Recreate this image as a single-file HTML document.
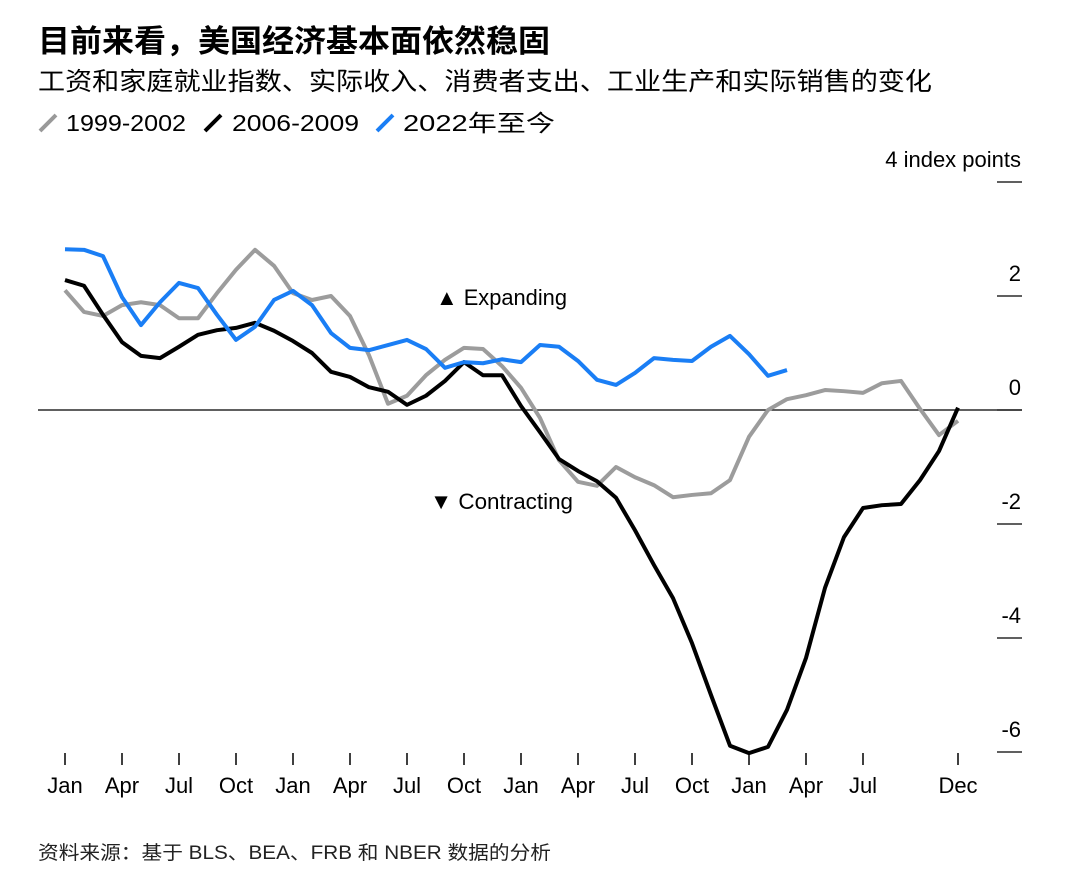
<!DOCTYPE html>
<html><head><meta charset="utf-8"><style>
body{margin:0;background:#fff;font-family:"Liberation Sans","Noto Sans CJK SC",sans-serif;}
svg text{font-family:"Liberation Sans","Noto Sans CJK SC",sans-serif;}
</style></head><body>
<svg id="c" width="1080" height="874">
<text x="38" y="52" font-size="31" font-weight="bold" fill="#000" textLength="512" lengthAdjust="spacingAndGlyphs">目前来看，美国经济基本面依然稳固</text>
<text x="38" y="90" font-size="25" fill="#000" textLength="894" lengthAdjust="spacingAndGlyphs">工资和家庭就业指数、实际收入、消费者支出、工业生产和实际销售的变化</text>
<g>
<line x1="40" y1="131" x2="56" y2="115" stroke="#999" stroke-width="4"/>
<text x="66" y="131" font-size="23" textLength="120" lengthAdjust="spacingAndGlyphs">1999-2002</text>
<line x1="205" y1="131" x2="221" y2="115" stroke="#000" stroke-width="4"/>
<text x="232" y="131" font-size="23" textLength="127" lengthAdjust="spacingAndGlyphs">2006-2009</text>
<line x1="377" y1="131" x2="393" y2="115" stroke="#1a7ef5" stroke-width="4"/>
<text x="403" y="131" font-size="23" textLength="152" lengthAdjust="spacingAndGlyphs">2022年至今</text>
</g>
<text x="436" y="305" font-size="22" textLength="131" lengthAdjust="spacingAndGlyphs">▲ Expanding</text>
<text x="430" y="509" font-size="22" textLength="143" lengthAdjust="spacingAndGlyphs">▼ Contracting</text>
<text x="38" y="859" font-size="19" fill="#222" textLength="513" lengthAdjust="spacingAndGlyphs">资料来源：基于 BLS、BEA、FRB 和 NBER 数据的分析</text>
<g id="axes"></g><g id="series"></g>
</svg>
<script>
const yTicks=[4,2,0,-2,-4,-6];
const yTickLabels=["4 index points","2","0","-2","-4","-6"];
const xTickMonths=[0,3,6,9,12,15,18,21,24,27,30,33,36,39,42,47];
const xTickLabels=["Jan","Apr","Jul","Oct","Jan","Apr","Jul","Oct","Jan","Apr","Jul","Oct","Jan","Apr","Jul","Dec"];
const gray=[2.1,1.72,1.65,1.84,1.89,1.84,1.61,1.61,2.05,2.46,2.81,2.53,2.05,1.93,2.0,1.65,0.96,0.11,0.25,0.61,0.88,1.09,1.07,0.77,0.39,-0.14,-0.88,-1.26,-1.33,-1.0,-1.18,-1.32,-1.53,-1.49,-1.46,-1.23,-0.47,0.0,0.19,0.26,0.35,0.33,0.30,0.47,0.51,0.02,-0.44,-0.19];
const black=[2.28,2.18,1.67,1.19,0.95,0.91,1.11,1.32,1.4,1.44,1.53,1.39,1.21,1.0,0.67,0.58,0.40,0.32,0.09,0.25,0.51,0.84,0.61,0.61,0.07,-0.39,-0.86,-1.07,-1.25,-1.54,-2.11,-2.72,-3.30,-4.09,-5.0,-5.89,-6.02,-5.91,-5.26,-4.35,-3.12,-2.23,-1.72,-1.67,-1.65,-1.23,-0.72,0.04];
const blue=[2.82,2.81,2.7,1.98,1.49,1.89,2.23,2.14,1.67,1.23,1.46,1.93,2.09,1.84,1.35,1.09,1.05,1.14,1.23,1.07,0.74,0.84,0.82,0.89,0.84,1.14,1.11,0.86,0.53,0.44,0.65,0.91,0.88,0.86,1.11,1.3,0.98,0.6,0.70];
const X=m=>65+19*m, Y=v=>410-57*v;
const ns="http://www.w3.org/2000/svg";
const ax=document.getElementById('axes'), sg=document.getElementById('series');
function mk(tag,attrs,parent){const e=document.createElementNS(ns,tag);for(const k in attrs)e.setAttribute(k,attrs[k]);parent.appendChild(e);return e;}
yTicks.forEach((t,i)=>{
 const l=mk('line',{x1:997,x2:1022,y1:Y(t),y2:Y(t),stroke:'#000','stroke-width':1.3},ax);
 
 
 const tx=mk('text',{x:1021,y:Y(t)-15,'font-size':22,'text-anchor':'end'},ax);
 tx.textContent=yTickLabels[i];
 
 
});
const zl=mk('line',{x1:38,x2:1022,y1:Y(0),y2:Y(0),stroke:'#000','stroke-width':1.3},ax);


xTickMonths.forEach((m,i)=>{
 const l=mk('line',{x1:X(m),x2:X(m),y1:753,y2:765,stroke:'#000','stroke-width':1.5},ax);
 
 
 const tx=mk('text',{x:X(m),y:793,'font-size':22,'text-anchor':'middle'},ax);
 tx.textContent=xTickLabels[i];
 
 
});
function line(d,c,name){
 const p=mk('polyline',{points:d.map((v,i)=>X(i)+','+Y(v)).join(' '),fill:'none',stroke:c,'stroke-width':4,'stroke-linejoin':'round'},sg);
 
 
}
line(gray,'#9c9c9c','line-1999-2002');
line(black,'#000','line-2006-2009');
line(blue,'#1a7ef5','line-2022-present');
</script>
</body></html>
